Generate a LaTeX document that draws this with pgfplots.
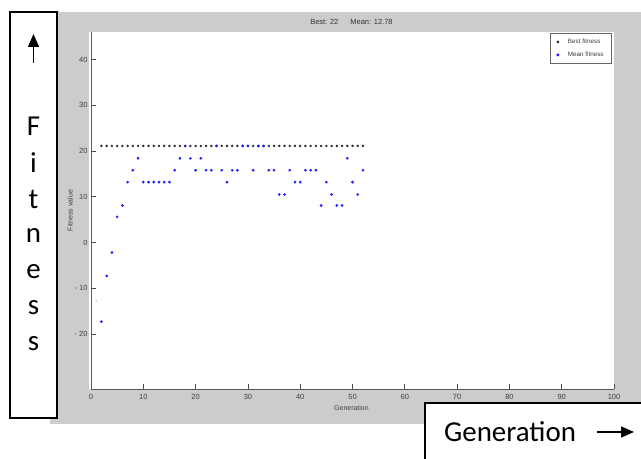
\documentclass[border=0pt]{standalone}
\usepackage{fontspec}
\setmainfont{Liberation Sans}
\newfontfamily\calfont{Carlito}
\usepackage{pgfplots}
\pgfplotsset{compat=1.18}
\usetikzlibrary{arrows.meta}
\definecolor{figgray}{RGB}{204,204,204}
\definecolor{mblue}{RGB}{30,30,255}

\begin{document}
\begin{tikzpicture}[x=1bp,y=1bp]
\fill[white] (0,0) rectangle (641,459);
\fill[figgray] (50,35) rectangle (641,447);
\fill[white] (89,70) rectangle (614,427);
\begin{axis}[
  scale only axis, width=523bp, height=357bp,
  at={(91bp,70bp)}, anchor=south west,
  xmin=0, xmax=100, ymin=-32, ymax=46,
  axis x line*=bottom, axis y line*=left,
  axis line style={black!65, line width=0.8bp},
  xtick={0,10,...,100},
  ytick={-20,-10,0,10,20,30,40},
  yticklabels={- 20,- 10,0,10,20,30,40},
  tick align=inside, major tick length=5bp,
  tick style={black!70, line width=0.8bp},
  ticklabel style={font=\fontsize{7.5}{8}\selectfont, text=black!75},
  xticklabel style={yshift=-2bp},
  /pgf/number format/assume math mode=true,
  xlabel={Generation},
  ylabel={Fitness value},
  xlabel style={at={(axis description cs:0.498,-0.052)}, anchor=center, font=\fontsize{7}{8}\selectfont, text=black!75},
  ylabel style={at={(axis description cs:-0.04,0.5)}, anchor=center, font=\fontsize{7}{8}\selectfont, text=black!75},
  title={Best: 22\hspace{12bp}Mean: 12.78},
  title style={at={(axis description cs:0.498,1.011)}, anchor=center, font=\fontsize{7.5}{8}\selectfont, text=black!80},
  legend style={at={(axis description cs:0.996,0.997)}, anchor=north east,
    draw=black!60, font=\fontsize{6.3}{7}\selectfont, text=black!75,
    row sep=3bp, inner xsep=6bp, inner ysep=3.5bp, line width=0.7bp,
    /tikz/every odd column/.append style={column sep=7bp}},
  legend cell align=left,
  clip=false,
]
\addplot[only marks, mark=*, mark size=1.0bp, draw=black!85, fill=black!85] coordinates {
(2,21.1)(3,21.1)(4,21.1)(5,21.1)(6,21.1)(7,21.1)(8,21.1)(9,21.1)(10,21.1)
(11,21.1)(12,21.1)(13,21.1)(14,21.1)(15,21.1)(16,21.1)(17,21.1)(18,21.1)(19,21.1)(20,21.1)
(21,21.1)(22,21.1)(23,21.1)(24,21.1)(25,21.1)(26,21.1)(27,21.1)(28,21.1)(29,21.1)(30,21.1)
(31,21.1)(32,21.1)(33,21.1)(34,21.1)(35,21.1)(36,21.1)(37,21.1)(38,21.1)(39,21.1)(40,21.1)
(41,21.1)(42,21.1)(43,21.1)(44,21.1)(45,21.1)(46,21.1)(47,21.1)(48,21.1)(49,21.1)(50,21.1)
(51,21.1)(52,21.1)
};
\addlegendentry{Best fitness}
\addplot[only marks, mark=*, mark size=1.15bp, draw=mblue, fill=mblue] coordinates {
(2,-17.3)(3,-7.3)(4,-2.2)(5,5.6)(6,8.1)(7,13.2)(8,15.8)(9,18.4)(10,13.2)
(11,13.2)(12,13.2)(13,13.2)(14,13.2)(15,13.2)(16,15.8)(17,18.4)(18,21.1)(19,18.4)(20,15.8)
(21,18.4)(22,15.8)(23,15.8)(24,21.1)(25,15.8)(26,13.2)(27,15.8)(28,15.8)(29,21.1)(30,21.1)
(31,15.8)(32,21.1)(33,21.1)(34,15.8)(35,15.8)(36,10.5)(37,10.5)(38,15.8)(39,13.2)(40,13.2)
(41,15.8)(42,15.8)(43,15.8)(44,8.1)(45,13.2)(46,10.5)(47,8.1)(48,8.1)(49,18.4)(50,13.2)
(51,10.5)(52,15.8)
};
\addlegendentry{Mean fitness}
\addplot[only marks, mark=*, mark size=0.6bp, draw=black!25, fill=black!25, forget plot] coordinates {(1,-12.7)};
\end{axis}
% Fitness box
\draw[fill=white, line width=1.3bp] (10,447) rectangle (57,41);
\draw[line width=1.3bp, -{Triangle[width=11bp,length=13bp]}] (33.5,396) -- (33.5,425);
\foreach \ch/\yy in {F/126,i/163,t/199,n/236,e/272,s/308,s/344}{
  \node[font=\calfont\fontsize{29}{30}\selectfont, anchor=center] at (33.5,459-\yy) {\ch};
}
% Generation box
\draw[fill=white, line width=1.3bp] (425,56) rectangle (660,-10);
\node[font=\calfont\fontsize{29}{30}\selectfont, anchor=west, inner sep=0pt] at (444,27) {Generation};
\draw[line width=1.3bp, -{Triangle[width=11bp,length=13bp]}] (597,27) -- (634,27);
\pgfresetboundingbox
\useasboundingbox (0,0) rectangle (641,459);
\end{tikzpicture}
\end{document}
